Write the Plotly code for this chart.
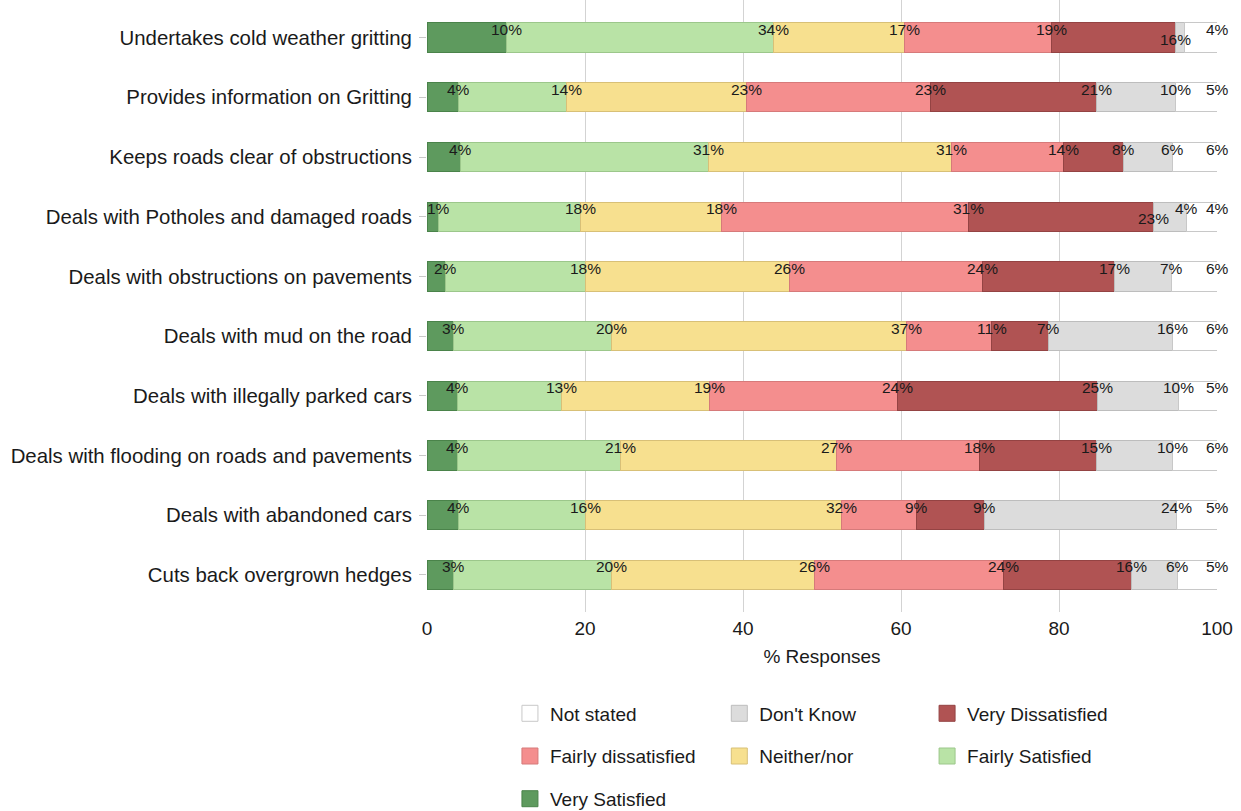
import plotly.graph_objects as go

categories = [
    "Undertakes cold weather gritting",
    "Provides information on Gritting",
    "Keeps roads clear of obstructions",
    "Deals with Potholes and damaged roads",
    "Deals with obstructions on pavements",
    "Deals with mud on the road",
    "Deals with illegally parked cars",
    "Deals with flooding on roads and pavements",
    "Deals with abandoned cars",
    "Cuts back overgrown hedges",
]

very_satisfied = [10.0, 4.0, 4.3, 1.4, 2.3, 3.4, 3.9, 3.8, 4.0, 3.4]
fairly_satisfied = [33.8, 13.6, 31.3, 18.0, 17.8, 20.0, 13.1, 20.7, 16.1, 20.0]
neither_nor = [16.6, 22.8, 30.8, 17.9, 25.8, 37.3, 18.7, 27.3, 32.4, 25.6]
fairly_dissatisfied = [18.6, 23.3, 14.2, 31.2, 24.4, 10.8, 23.8, 18.1, 9.4, 24.0]
very_dissatisfied = [15.7, 21.0, 7.6, 23.4, 16.7, 7.2, 25.4, 14.9, 8.7, 16.2]
dont_know = [1.2, 10.1, 6.2, 4.2, 7.3, 15.7, 10.2, 9.6, 24.3, 5.8]
not_stated = [4.1, 5.2, 5.6, 3.9, 5.7, 5.6, 4.9, 5.6, 5.1, 5.0]

x_ticks = [0, 20, 40, 60, 80, 100]

series = [
    ("Very Satisfied", very_satisfied, "#5e9a5e", "#4a834a"),
    ("Fairly Satisfied", fairly_satisfied, "#b9e3a6", "#9cc78b"),
    ("Neither/nor", neither_nor, "#f7e08f", "#d8c077"),
    ("Fairly dissatisfied", fairly_dissatisfied, "#f48e8e", "#d67a7a"),
    ("Very Dissatisfied", very_dissatisfied, "#b05353", "#944343"),
    ("Don't Know", dont_know, "#dcdcdc", "#bdbdbd"),
    ("Not stated", not_stated, "#ffffff", "#c8c8c8"),
]

# which legend column each series sits in (legend reads NS, DK, VD / FD, N, FS / VS)
legend_of = {
    "Not stated": "legend", "Fairly dissatisfied": "legend", "Very Satisfied": "legend",
    "Don't Know": "legend2", "Neither/nor": "legend2",
    "Very Dissatisfied": "legend3", "Fairly Satisfied": "legend3",
}
hidden_labels = {("Don't Know", 0)}
lowered_labels = {("Very Dissatisfied", 0), ("Very Dissatisfied", 3)}

FONT = "Liberation Sans, Arial, sans-serif"

fig = go.Figure()
for name, vals, fill, edge in series:
    fig.add_trace(go.Bar(
        y=categories, x=vals, orientation="h", name=name,
        marker=dict(color=fill, line=dict(color=edge, width=1)),
        width=0.49, showlegend=False, legendgroup=name,
        hovertemplate="%{y}<br>" + name + ": %{x:.0f}%<extra></extra>",
    ))

# legend proxies (larger square swatches), in reversed order
for name, vals, fill, edge in reversed(series):
    fig.add_trace(go.Scatter(
        x=[None], y=[None], mode="markers", name=name, legendgroup=name,
        legend=legend_of[name],
        marker=dict(symbol="square", size=16, color=fill, line=dict(color=edge, width=1)),
    ))

annotations = []
cum = [0.0] * len(categories)
for name, vals, fill, edge in series:
    for i, v in enumerate(vals):
        cum[i] += v
        if (name, i) in hidden_labels:
            continue
        annotations.append(dict(
            x=min(round(cum[i], 6), 100), y=categories[i], xref="x", yref="y",
            text=f"{round(v)}%", showarrow=False, xanchor="center", yanchor="middle",
            yshift=-2 if (name, i) in lowered_labels else 8,
            font=dict(family=FONT, size=15.5, color="#1a1a1a"),
        ))

legend_common = dict(
    orientation="v", yanchor="top", xanchor="left", tracegroupgap=15,
    xref="paper", yref="container", y=0.1437,
    font=dict(family=FONT, size=19, color="#1a1a1a"), bgcolor="rgba(0,0,0,0)",
)

fig.update_layout(
    width=1241, height=811,
    margin=dict(l=427, r=24, t=0, b=199),
    barmode="stack",
    plot_bgcolor="white", paper_bgcolor="white",
    font=dict(family=FONT, size=19, color="#1a1a1a"),
    annotations=annotations,
    legend=dict(x=0.105, **legend_common),
    legend2=dict(x=0.370, **legend_common),
    legend3=dict(x=0.633, **legend_common),
    xaxis=dict(
        range=[0, 100], tickvals=x_ticks, ticktext=[str(t) for t in x_ticks],
        showgrid=True, gridcolor="#d3d3d3", gridwidth=1, zeroline=False,
        showline=False, ticks="", tickfont=dict(size=19), ticklabelstandoff=3,
        title=dict(text="% Responses", font=dict(size=19), standoff=11),
        fixedrange=True,
    ),
    yaxis=dict(
        categoryorder="array", categoryarray=categories,
        range=[9.62, -0.63], showgrid=False, zeroline=False, showline=False,
        ticks="outside", ticklen=7, tickcolor="#c8c8c8", tickwidth=1,
        tickfont=dict(size=20.4), ticklabelstandoff=3, fixedrange=True,
    ),
)

fig.write_html("out.html", post_script="document.body.style.margin='0';",
               config={"displayModeBar": False})
